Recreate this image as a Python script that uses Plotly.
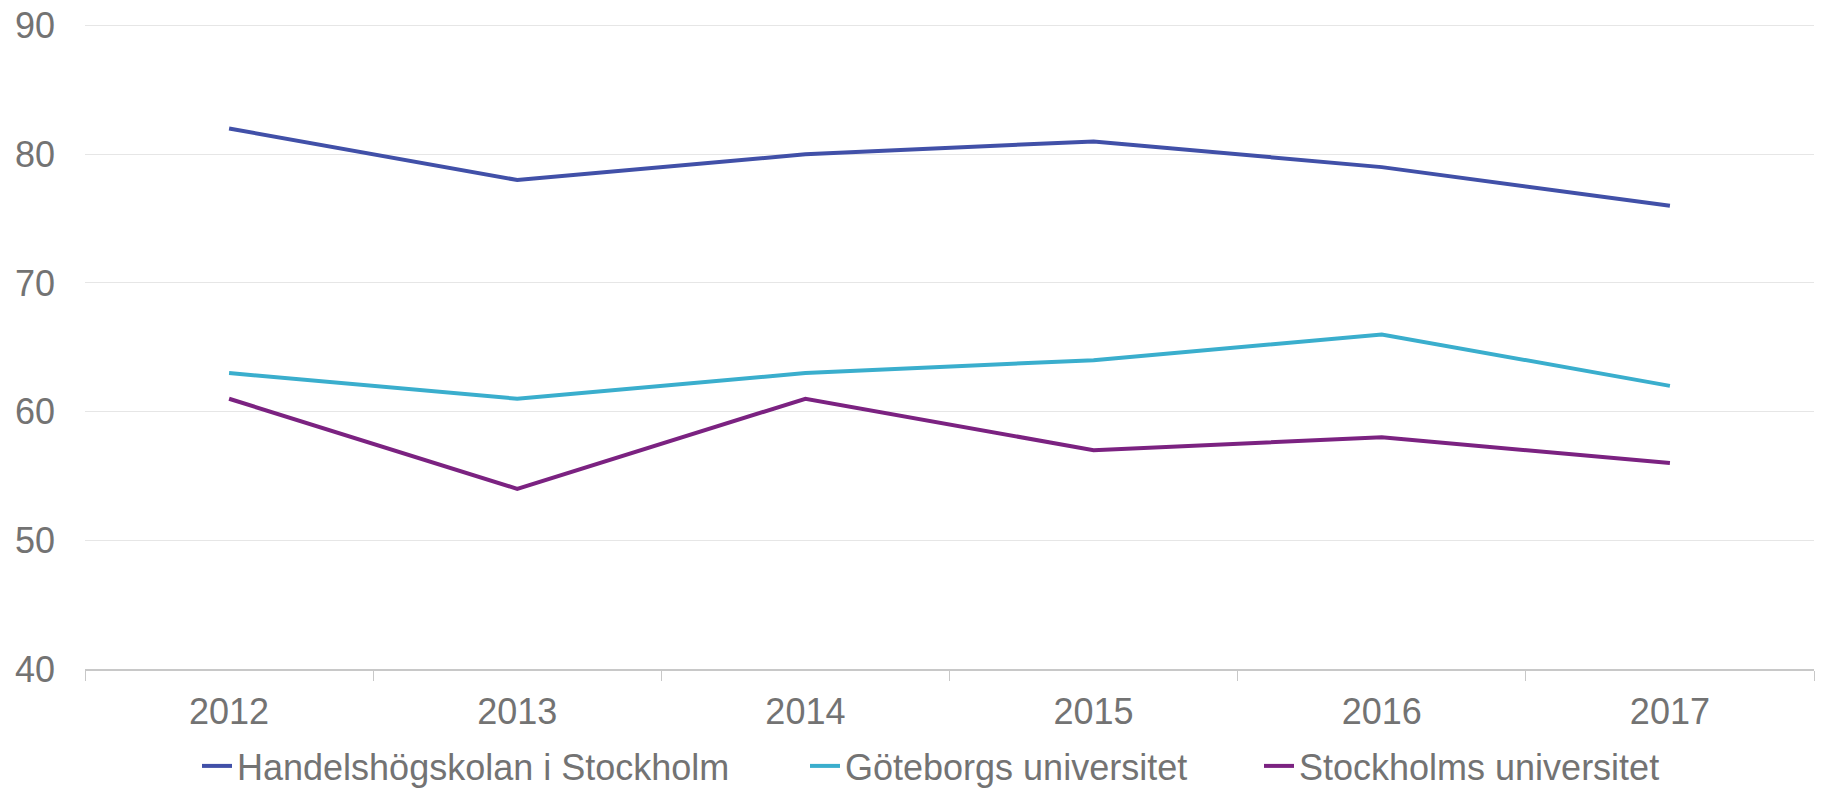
import plotly.graph_objects as go

years = ["2012", "2013", "2014", "2015", "2016", "2017"]
handels = [82, 78, 80, 81, 79, 76]
goteborg = [63, 61, 63, 64, 66, 62]
stockholm = [61, 54, 61, 57, 58, 56]

series = [
    ("Handelshögskolan i Stockholm", handels, "#4150A8", "legend"),
    ("Göteborgs universitet", goteborg, "#3AAECD", "legend2"),
    ("Stockholms universitet", stockholm, "#7B2281", "legend3"),
]
legend_x = [189, 797, 1251]

fig = go.Figure()
for name, vals, color, lg in series:
    fig.add_trace(go.Scatter(x=years, y=vals, name=name, mode="lines", legend=lg,
                             line=dict(color=color, width=4)))

font = "Liberation Sans, Arial, sans-serif"
legend_common = dict(orientation="h", xref="container", yref="container",
                     xanchor="left", yanchor="middle", y=1 - 758 / 791,
                     font=dict(size=36, color="#737373"), bgcolor="rgba(0,0,0,0)")
fig.update_layout(
    width=1823, height=791,
    paper_bgcolor="white", plot_bgcolor="white",
    margin=dict(l=77, r=17, t=15, b=130, autoexpand=False),
    font=dict(family=font, size=36, color="#737373"),
    showlegend=True,
    legend=dict(x=legend_x[0] / 1823, **legend_common),
    legend2=dict(x=legend_x[1] / 1823, **legend_common),
    legend3=dict(x=legend_x[2] / 1823, **legend_common),
    xaxis=dict(type="category", range=[-0.5, 5.5], tickson="boundaries", ticks="outside",
               ticklen=10, tickcolor="#c8c8c8", showline=True, linecolor="#c8c8c8",
               linewidth=1.5, showgrid=False, ticklabelstandoff=10, automargin=False,
               ticklabeloverflow="allow", tickfont=dict(size=36, color="#737373")),
    yaxis=dict(range=[40, 90.2], dtick=10, tick0=40, showgrid=True, gridcolor="#e6e6e6",
               gridwidth=1.2, zeroline=False, showline=False, ticks="", ticklabelstandoff=29,
               automargin=False, ticklabeloverflow="allow",
               tickfont=dict(size=36, color="#737373")),
)
fig.write_html("out.html")
